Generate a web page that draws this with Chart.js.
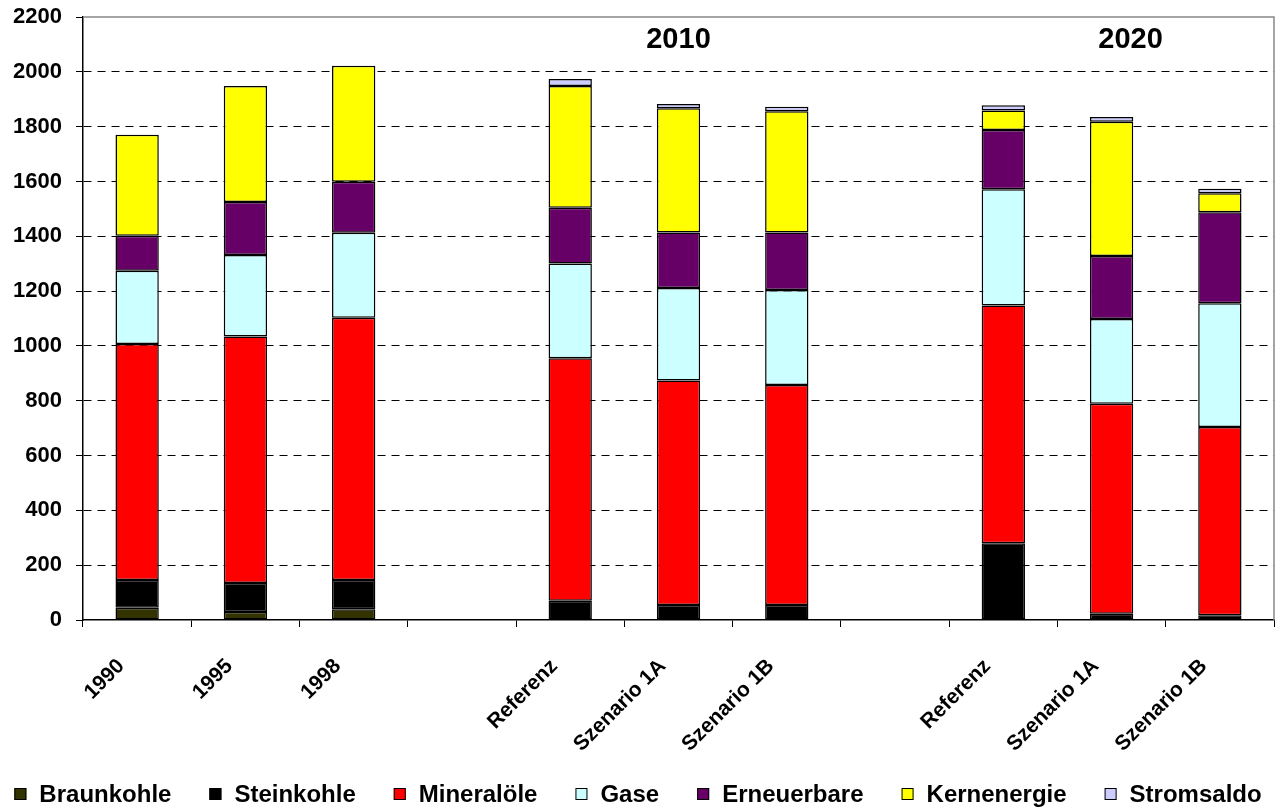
<!DOCTYPE html>
<html lang="de">
<head>
    <meta charset="UTF-8">
    <title>Primärenergieverbrauch</title>
    <style>
        html, body {
            margin: 0;
            padding: 0;
            background: #ffffff;
        }

        .chart-container {
            position: relative;
            width: 1276px;
            height: 809px;
        }
    </style>
</head>
<body>
    <div class="chart-container">
        <canvas id="energyChart"></canvas>
    </div>

    <script src="https://cdn.jsdelivr.net/npm/chart.js"></script>
    <script>
        // categories (empty entries are the gaps between the groups)
        const categories = ['1990', '1995', '1998', '', 'Referenz', 'Szenario 1A', 'Szenario 1B', '', 'Referenz', 'Szenario 1A', 'Szenario 1B'];

        // values per energy source, stacked bottom to top
        const braunkohle   = [45, 29, 39, null, 0, 0, 0, null, 0, 0, 0];
        const steinkohle   = [101, 106, 107, null, 70, 55, 55, null, 280, 23, 17];
        const mineraloele  = [861, 899, 957, null, 885, 819, 802, null, 867, 766, 687];
        const gase         = [267, 298, 310, null, 346, 337, 347, null, 425, 309, 452];
        const erneuerbare  = [128, 193, 186, null, 203, 203, 210, null, 216, 230, 332];
        const kernenergie  = [368, 423, 423, null, 444, 453, 442, null, 71, 490, 69];
        const stromsaldo   = [0, 0, 0, null, 26, 16, 17, null, 19, 17, 16];

        const yTicks = [0, 200, 400, 600, 800, 1000, 1200, 1400, 1600, 1800, 2000, 2200];

        // year headings above the scenario groups
        const periodLabels = ['2010', '2020'];
        const periodAt = [5, 9];
        const periodShift = [0, 19];

        const fontFamily = "'Liberation Sans', Arial, sans-serif";

        function series(label, data, color) {
            return {
                label: label,
                data: data,
                backgroundColor: color,
                borderColor: '#000000',
                borderWidth: 1.5,
                borderSkipped: false,
                categoryPercentage: 1.0,
                barPercentage: 0.4
            };
        }

        // grey frame, year headings and the legend row
        const decorPlugin = {
            id: 'decor',
            afterDraw(chart) {
                const { ctx, chartArea, scales } = chart;
                ctx.save();
                ctx.strokeStyle = '#888888';
                ctx.lineWidth = 1.5;
                ctx.beginPath();
                ctx.moveTo(chartArea.left, chartArea.top);
                ctx.lineTo(chartArea.right, chartArea.top);
                ctx.lineTo(chartArea.right, chartArea.bottom);
                ctx.stroke();

                ctx.fillStyle = '#000000';
                ctx.font = 'bold 29px ' + fontFamily;
                ctx.textAlign = 'center';
                ctx.textBaseline = 'middle';
                periodLabels.forEach((text, i) => {
                    const x = scales.x.getPixelForValue(periodAt[i]) + periodShift[i];
                    ctx.fillText(text, x, chartArea.top + 23);
                });

                // legend
                const box = 12;
                const textGap = 13;
                const itemGap = 38;
                const legendY = chart.height - 15;
                ctx.font = 'bold 24px ' + fontFamily;
                ctx.textAlign = 'left';
                const items = chart.data.datasets.map(ds => ({
                    ds: ds,
                    w: box + textGap + ctx.measureText(ds.label).width
                }));
                const total = items.reduce((s, it) => s + it.w, 0) + itemGap * (items.length - 1);
                let x = (chart.width - total) / 2;
                items.forEach(it => {
                    ctx.fillStyle = it.ds.backgroundColor;
                    ctx.fillRect(x, legendY - box / 2, box, box);
                    ctx.strokeStyle = '#000000';
                    ctx.lineWidth = 1;
                    ctx.strokeRect(x + 0.5, legendY - box / 2 + 0.5, box - 1, box - 1);
                    ctx.fillStyle = '#000000';
                    ctx.fillText(it.ds.label, x + box + textGap, legendY + 1);
                    x += it.w + itemGap;
                });
                ctx.restore();
            }
        };

        const chart = new Chart(document.getElementById('energyChart'), {
            type: 'bar',
            data: {
                labels: categories,
                datasets: [
                    series('Braunkohle', braunkohle, '#333300'),
                    series('Steinkohle', steinkohle, '#000000'),
                    series('Mineralöle', mineraloele, '#ff0000'),
                    series('Gase', gase, '#ccffff'),
                    series('Erneuerbare', erneuerbare, '#660066'),
                    series('Kernenergie', kernenergie, '#ffff00'),
                    series('Stromsaldo', stromsaldo, '#ccccff')
                ]
            },
            options: {
                responsive: true,
                maintainAspectRatio: false,
                animation: false,
                layout: {
                    padding: { top: 17, right: 2, left: 0, bottom: 40 }
                },
                plugins: {
                    tooltip: { enabled: false },
                    legend: { display: false }
                },
                scales: {
                    x: {
                        stacked: true,
                        offset: true,
                        grid: {
                            offset: true,
                            drawOnChartArea: false,
                            drawTicks: true,
                            tickLength: 7,
                            tickColor: '#000000'
                        },
                        border: { color: '#000000', width: 1.5 },
                        ticks: {
                            color: '#000000',
                            font: { family: fontFamily, size: 21, weight: 'bold' },
                            minRotation: 45,
                            maxRotation: 45,
                            autoSkip: false,
                            labelOffset: -16,
                            padding: 27
                        },
                        afterFit(scale) {
                            scale.height = 149;
                            scale.paddingLeft = 0;
                            scale.paddingRight = 0;
                        }
                    },
                    y: {
                        stacked: true,
                        min: 0,
                        max: 2200,
                        afterBuildTicks(scale) {
                            scale.ticks = yTicks.map(v => ({ value: v }));
                        },
                        grid: {
                            color: (ctx) => (ctx.tick && (ctx.tick.value === 0 || ctx.tick.value === 2200)) ? 'rgba(0,0,0,0)' : '#000000',
                            lineWidth: 1,
                            tickLength: 7,
                            tickColor: '#000000'
                        },
                        border: { color: '#000000', width: 1.5, dash: [8, 6] },
                        ticks: {
                            color: '#000000',
                            font: { family: fontFamily, size: 22, weight: 'bold' },
                            padding: 14,
                            callback: (value) => String(value)
                        },
                        afterFit(scale) {
                            scale.width = 83;
                            scale.paddingTop = 0;
                            scale.paddingBottom = 0;
                        }
                    }
                }
            },
            plugins: [decorPlugin]
        });
    </script>
</body>
</html>
